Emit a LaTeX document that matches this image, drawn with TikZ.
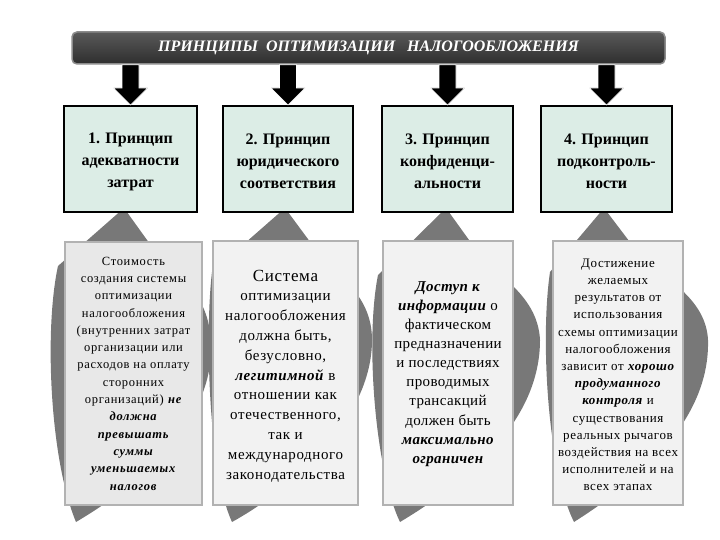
\documentclass[tikz,border=0pt]{standalone}
\usepackage{fontspec}
\usetikzlibrary{calc}
\setmainfont{Liberation Serif}
\begin{document}
\begin{tikzpicture}[x=1pt,y=-1pt]
\useasboundingbox (0,0) rectangle (720,540);
\tikzset{
  leaf/.style={fill=black!53, draw=none},
  upbox/.style={draw=black, line width=2pt, fill={rgb,255:red,220;green,237;blue,230}},
  lowbox/.style={draw=black!30, line width=2.2pt, fill=black!5},
  bigarrow/.style={fill=black, draw=white, line width=0.6pt}
}
\newcommand{\bi}[1]{\textbf{\textit{#1}}}
% gray leaf shapes
\fill[leaf] (124,208) -- (58,266) .. controls (44,330) and (50,460) .. (76,522)
  .. controls (130,490) and (210,430) .. (211,350) .. controls (212,300) and (185,280) .. (160,258) -- cycle;
\fill[leaf] (285,208) -- (212,272) .. controls (205,330) and (208,470) .. (232,522)
  .. controls (290,490) and (372,420) .. (372,340) .. controls (372,300) and (345,280) .. (322,258) -- cycle;
\fill[leaf] (446,208) -- (378,275) .. controls (365,340) and (375,470) .. (400,522)
  .. controls (470,480) and (540,420) .. (540,340) .. controls (538,300) and (505,280) .. (482,258) -- cycle;
\fill[leaf] (604,208) -- (550,272) .. controls (540,340) and (548,470) .. (574,522)
  .. controls (640,480) and (710,420) .. (708,340) .. controls (706,300) and (668,280) .. (642,258) -- cycle;
% banner
\node[draw=black!45, line width=1.5pt, rounded corners=5pt, top color=black!65, bottom color=black!82,
  minimum width=593pt, minimum height=32pt, inner sep=0pt] (ban) at (368.5,48) {};
\node[text=white, font=\fontsize{16}{18}\selectfont\bfseries\itshape] at (ban.center) {ПРИНЦИПЫ \ ОПТИМИЗАЦИИ \ \ НАЛОГООБЛОЖЕНИЯ};
% upper boxes
\node[upbox, minimum width=133pt, minimum height=106pt, inner sep=0pt] (u1) at (130.5,159) {};
\node[upbox, minimum width=130pt, minimum height=106pt, inner sep=0pt] (u2) at (288,159) {};
\node[upbox, minimum width=131pt, minimum height=106pt, inner sep=0pt] (u3) at (447.5,159) {};
\node[upbox, minimum width=131pt, minimum height=106pt, inner sep=0pt] (u4) at (606.5,159) {};
\foreach \n/\t in {u1/{1. Принцип\\адекватности\\затрат}, u2/{2. Принцип\\юридического\\соответствия}, u3/{3. Принцип\\конфиденци-\\альности}, u4/{4. Принцип\\подконтроль-\\ности}}
  \node[align=center, font=\fontsize{16}{22}\selectfont\bfseries] at ($(\n.center)+(0,2.5)$) {\t};
% black arrows from banner to boxes
\foreach \n in {u1,u2,u3,u4}
  \filldraw[bigarrow] (ban.south -| {$(\n.north)+(-8.5,0)$}) -- (ban.south -| {$(\n.north)+(8.5,0)$}) -- ($(\n.north)+(8.5,-17)$) -- ($(\n.north)+(17,-17)$)
    -- (\n.north) -- ($(\n.north)+(-17,-17)$) -- ($(\n.north)+(-8.5,-17)$) -- cycle;
% lower boxes
\node[lowbox, fill=black!9, minimum width=137pt, minimum height=263pt, inner sep=0pt] (l1) at (133.5,373.5) {};
\node[lowbox, minimum width=145pt, minimum height=264pt, inner sep=0pt] (l2) at (285.5,373) {};
\node[lowbox, minimum width=130pt, minimum height=264pt, inner sep=0pt] (l3) at (448,373) {};
\node[lowbox, minimum width=130pt, minimum height=264pt, inner sep=0pt] (l4) at (618,373) {};
\node[align=center, font=\fontsize{12.5}{17.3}\selectfont\addfontfeatures{LetterSpace=5.5}] at (l1.center) {Стоимость\\создания системы\\оптимизации\\налогообложения\\(внутренних затрат\\организации или\\расходов на оплату\\сторонних\\организаций) \bi{не}\\\bi{должна}\\\bi{превышать}\\\bi{суммы}\\\bi{уменьшаемых}\\\bi{налогов}};
\node[align=center, font=\fontsize{15}{19.8}\selectfont\addfontfeatures{LetterSpace=4}] at ($(l2.center)+(0,3)$) {{\fontsize{17}{19.8}\selectfont Система}\\оптимизации\\налогообложения\\должна быть,\\безусловно,\\\bi{легитимной} в\\отношении как\\отечественного,\\так и\\международного\\законодательства};
\node[align=center, font=\fontsize{15}{19.1}\selectfont\addfontfeatures{LetterSpace=2.5}] at ($(l3.center)+(0,1)$) {\bi{Доступ к}\\\bi{информации} о\\фактическом\\предназначении\\и последствиях\\проводимых\\трансакций\\должен быть\\\bi{максимально}\\\bi{ограничен}};
\node[align=center, font=\fontsize{13}{17.2}\selectfont\addfontfeatures{LetterSpace=4.5}] at ($(l4.center)+(0,2)$) {Достижение\\желаемых\\результатов от\\использования\\схемы оптимизации\\налогообложения\\зависит от \bi{хорошо}\\\bi{продуманного}\\\bi{контроля} и\\существования\\реальных рычагов\\воздействия на всех\\исполнителей и на\\всех этапах};
\end{tikzpicture}
\end{document}
